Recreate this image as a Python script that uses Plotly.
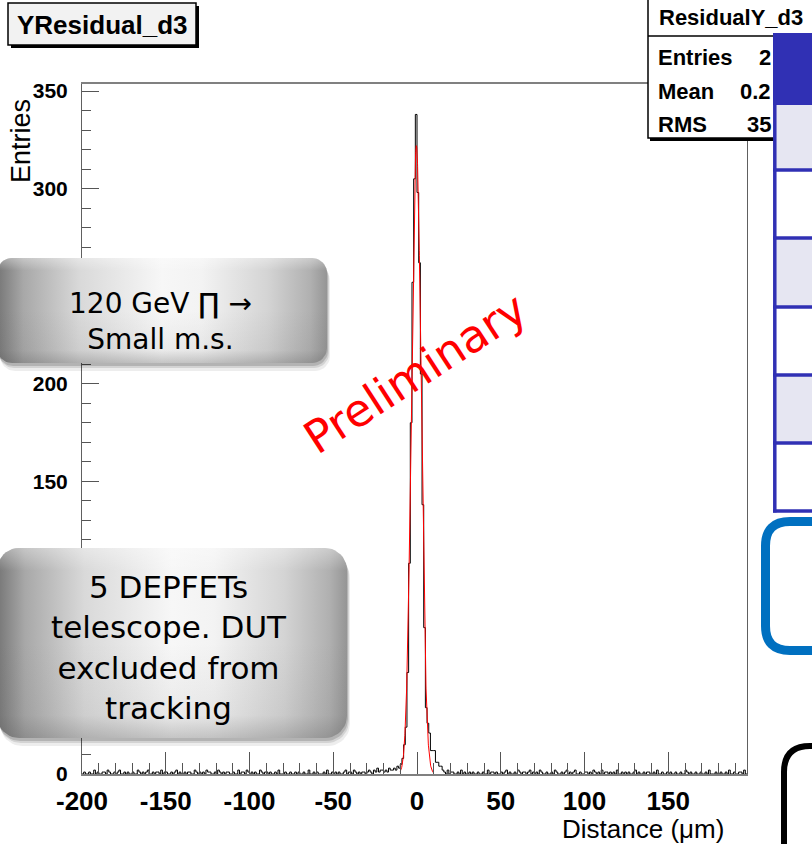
import math
import numpy as np
import plotly.graph_objects as go

# ---------------- data ----------------
hist_title = "YResidual_d3"
stats_title = "ResidualY_d3"
stats_labels = ["Entries", "Mean", "RMS"]
stats_values_visible = ["2", "0.2", "35"]   # rest of the values hidden behind the slide table
x_title = "Distance (\u03bcm)"
y_title = "Entries"

x_first_edge = -200   # left edge of first bin (um)
bin_width = 1         # um

# counts for bins -200 ... -21
counts_left = [
    0, 1, 0, 0, 1, 0, 0, 2, 0, 1,
    0, 0, 1, 1, 0, 2, 1, 0, 0, 1,
    0, 1, 2, 0, 0, 1, 0, 1, 0, 0,
    1, 0, 0, 2, 1, 0, 1, 0, 1, 2,
    0, 0, 1, 0, 1, 1, 0, 2, 0, 1,
    1, 0, 0, 1, 0, 1, 2, 0, 1, 0,
    0, 1, 0, 1, 1, 0, 0, 2, 1, 0,
    1, 0, 1, 0, 2, 1, 1, 0, 0, 1,
    0, 2, 1, 0, 1, 0, 1, 1, 0, 0,
    1, 0, 0, 2, 0, 1, 1, 0, 2, 1,
    0, 1, 0, 1, 0, 0, 2, 1, 0, 1,
    1, 0, 1, 0, 0, 1, 0, 2, 0, 0,
    0, 1, 0, 0, 1, 0, 0, 1, 0, 1,
    0, 0, 1, 0, 0, 2, 0, 0, 1, 0,
    1, 0, 0, 0, 1, 0, 2, 0, 0, 1,
    0, 1, 0, 1, 0, 0, 1, 2, 0, 1,
    1, 0, 2, 1, 0, 1, 0, 1, 1, 0,
    1, 2, 1, 0, 2, 1, 3, 1, 2, 2,
]
# counts for bins -20 ... 15 (peak region)
counts_peak = [
    1, 2, 1, 3, 2, 2, 3, 2, 4, 3,
    5, 8, 15, 24, 52, 108, 180, 252, 305, 338,
    298, 262, 205, 138, 75, 34, 26, 21, 12, 12,
    12, 6, 6, 4, 4, 2,
]
# counts for bins 16 ... 196
counts_right = [
    1, 0, 2, 0, 1, 1, 0, 0, 1, 0,
    2, 0, 1, 0, 0, 1, 0, 1, 0, 0,
    1, 0, 0, 1, 0, 0, 2, 0, 1, 1,
    0, 1, 0, 0, 1, 0, 1, 2, 0, 1,
    0, 0, 1, 0, 2, 1, 0, 1, 1, 0,
    1, 2, 0, 1, 0, 1, 0, 2, 1, 0,
    0, 1, 0, 0, 1, 0, 2, 1, 0, 0,
    1, 0, 1, 2, 0, 1, 0, 1, 2, 0,
    0, 1, 0, 0, 1, 1, 0, 1, 0, 2,
    1, 0, 1, 0, 2, 0, 1, 1, 0, 1,
    0, 1, 0, 2, 0, 0, 1, 0, 1, 0,
    1, 0, 0, 1, 2, 0, 1, 0, 0, 1,
    0, 1, 1, 0, 0, 1, 0, 2, 0, 0,
    1, 0, 0, 1, 0, 1, 0, 0, 1, 0,
    0, 1, 0, 0, 2, 1, 0, 1, 0, 0,
    1, 0, 0, 1, 0, 0, 1, 0, 2, 0,
    0, 0, 1, 0, 0, 1, 0, 0, 1, 0,
    2, 0, 0, 1, 0, 0, 1, 1, 0, 2,
    0,
]

# gaussian fit drawn in red
fit_constant = 322.0
fit_mean = -0.4
fit_sigma = 2.9
fit_range = (-10.0, 10.0)

x_tick_vals = [-200, -150, -100, -50, 0, 50, 100, 150]
y_tick_vals = [0, 50, 100, 150, 200, 250, 300, 350]
# y labels 50, 100 and 250 lie under the slide boxes in the original
y_tick_hidden = [50, 100, 250]

box1_text = "120 GeV \u220f \u2192<br>Small m.s."
box2_text = "5 DEPFETs<br>telescope. DUT<br>excluded from<br>tracking"
watermark = "Preliminary"

# ---------------- fonts ----------------
F_NARROW = "Liberation Sans Narrow, Arial Narrow, Liberation Sans, Arial, sans-serif"
F_SANS = "Liberation Sans, Arial, Helvetica, sans-serif"
F_SLIDE = "DejaVu Sans, Verdana, sans-serif"

W, H = 812, 844

counts = counts_left + counts_peak + counts_right
edges = [x_first_edge + i * bin_width for i in range(len(counts) + 1)]

fig = go.Figure()

# histogram outline
fig.add_trace(go.Scatter(
    x=edges, y=counts + [counts[-1]], mode="lines", line_shape="hv",
    line=dict(color="#000000", width=1), hoverinfo="skip", showlegend=False,
))
# fit curve
fx = np.linspace(fit_range[0], fit_range[1], 401)
fy = fit_constant * np.exp(-0.5 * ((fx - fit_mean) / fit_sigma) ** 2)
fig.add_trace(go.Scatter(
    x=fx, y=fy, mode="lines", line=dict(color="#ff0000", width=1),
    hoverinfo="skip", showlegend=False,
))

# ---------------- decorations (pixel subplot) ----------------
def rrect(x0, y0, x1, y1, r, n=10):
    xs, ys = [], []
    corners = [(x1 - r, y0 + r, -90, 0), (x1 - r, y1 - r, 0, 90),
               (x0 + r, y1 - r, 90, 180), (x0 + r, y0 + r, 180, 270)]
    for cx, cy, a0, a1 in corners:
        for k in range(n + 1):
            a = math.radians(a0 + (a1 - a0) * k / n)
            xs.append(cx + r * math.cos(a))
            ys.append(cy + r * math.sin(a))
    xs.append(xs[0]); ys.append(ys[0])
    return xs, ys

def add_fill(xs, ys, **kw):
    fig.add_trace(go.Scatter(x=xs, y=ys, xaxis="x2", yaxis="y2", mode="lines",
                             fill="toself", line=dict(width=0, color="rgba(0,0,0,0)"),
                             hoverinfo="skip", showlegend=False, **kw))

def grey_box(x0, y0, x1, y1, r):
    for dx, dy, a in [(3, 8, 0.07), (2, 5, 0.11), (1, 3, 0.15)]:
        xs, ys = rrect(x0 + dx, y0 + dy, x1 + dx, y1 + dy, r)
        add_fill(xs, ys, fillcolor=f"rgba(0,0,0,{a})")
    xs, ys = rrect(x0, y0, x1, y1, r)
    add_fill(xs, ys, fillgradient=dict(type="horizontal", colorscale=[
        [0.0, "#767676"], [0.08, "#a8a8a8"], [0.25, "#d9d9d9"], [0.5, "#f7f7f7"],
        [0.62, "#f3f3f3"], [0.82, "#d4d4d4"], [0.95, "#b0b0b0"], [1.0, "#959595"]]))
    # vertical shading: light rim on top, darker toward bottom
    add_fill(xs, ys, fillgradient=dict(type="vertical", colorscale=[
        [0.0, "rgba(80,80,80,0.30)"], [0.12, "rgba(80,80,80,0.08)"],
        [0.5, "rgba(80,80,80,0.0)"], [0.88, "rgba(255,255,255,0.0)"],
        [1.0, "rgba(255,255,255,0.35)"]]))

grey_box(-3, 258, 327, 363, 15)
grey_box(-3, 548, 347, 738, 22)

shapes = []
def rect(x0, y0, x1, y1, fill, line_color=None, lw=0):
    shapes.append(dict(type="rect", xref="x2", yref="y2", x0=x0, y0=y0, x1=x1, y1=y1,
                       fillcolor=fill, line=dict(color=line_color or fill, width=lw),
                       layer="above"))

def line(x0, y0, x1, y1, color, lw):
    shapes.append(dict(type="line", xref="x2", yref="y2", x0=x0, y0=y0, x1=x1, y1=y1,
                       line=dict(color=color, width=lw), layer="above"))

# title box
rect(11, 6, 199, 48, "#000000")
rect(8, 3, 196, 45, "#f2f2f2", "#000000", 1.5)
# stats box
rect(650, -5, 832, 141, "#000000")
rect(648, -5, 830, 138, "#ffffff", "#000000", 1.5)
line(648, 36, 830, 36, "#000000", 1.5)
# slide table
blue = "#3030b4"
rect(773, 33, 830, 105, blue)
row_bounds = [105, 170, 238, 307, 375, 443, 511]
for i in range(6):
    rect(775, row_bounds[i], 830, row_bounds[i + 1], "#e6e6f2" if i % 2 == 0 else "#ffffff")
for yb in row_bounds[1:]:
    line(773, yb, 830, yb, blue, 3.5)
line(774.8, 33, 774.8, 512.5, blue, 3.5)
# blue rounded frame
shapes.append(dict(type="path", xref="x2", yref="y2",
                   path="M 860,521.5 L 790,521.5 Q 765.5,521.5 765.5,546 L 765.5,626 "
                        "Q 765.5,650.5 790,650.5 L 860,650.5",
                   line=dict(color="#0070c0", width=9), layer="above"))
# black rounded frame
shapes.append(dict(type="path", xref="x2", yref="y2",
                   path="M 860,746 L 810,746 Q 784,746 784,772 L 784,880",
                   line=dict(color="#000000", width=6), layer="above"))

ann = []
def text(x, y, s, size, family, color="#000000", bold=False, xanchor="center",
         angle=0, align="center"):
    ann.append(dict(x=x, y=y, xref="x2", yref="y2", text=s, showarrow=False,
                    xanchor=xanchor, yanchor="middle", textangle=angle, align=align,
                    font=dict(size=size, family=family, color=color,
                              weight="bold" if bold else "normal")))

text(102, 25, hist_title, 26, F_NARROW, bold=True)
text(731, 17, stats_title, 22, F_NARROW, bold=True)
for lab, val, yy in zip(stats_labels, stats_values_visible, [57, 91, 124]):
    text(656, yy, lab, 22, F_NARROW, bold=True, xanchor="left")
    text(773, yy, val, 22, F_NARROW, bold=True, xanchor="right")
text(21, 141, y_title, 27, F_SANS, angle=-90)
text(726, 829, x_title, 26, F_SANS, xanchor="right")
text(160, 321, box1_text, 28, F_SLIDE)
text(169, 647, box2_text, 31, F_SLIDE)
text(415, 373, watermark, 45, F_SLIDE, color="#ff0000", angle=-33)

fig.update_layout(
    width=W, height=H, autosize=False,
    margin=dict(l=0, r=0, t=0, b=0, pad=0, autoexpand=False),
    paper_bgcolor="#ffffff", plot_bgcolor="rgba(0,0,0,0)",
    showlegend=False,
    xaxis=dict(domain=[82 / W, 747 / W], range=[-200, 197], tickvals=x_tick_vals,
               ticktext=[str(v) for v in x_tick_vals], ticks="inside", ticklen=22,
               tickwidth=1, tickcolor="#555555",
               minor=dict(dtick=10, tick0=0, ticks="inside", ticklen=11,
                          tickcolor="#555555", tickwidth=1),
               showline=True, linecolor="#808080", linewidth=1.5, mirror=True,
               showgrid=False, zeroline=False, ticklabelstandoff=3,
               tickfont=dict(family=F_NARROW, size=26, color="#000000", weight="bold"),
               anchor="y", automargin=False),
    yaxis=dict(domain=[70 / H, 760 / H], range=[0, 353.6], tickvals=y_tick_vals,
               ticktext=["" if v in y_tick_hidden else str(v) for v in y_tick_vals],
               ticks="inside", ticklen=17, tickwidth=1, tickcolor="#555555",
               minor=dict(dtick=10, tick0=0, ticks="inside", ticklen=9,
                          tickcolor="#555555", tickwidth=1),
               showline=True, linecolor="#606060", linewidth=1, mirror=True,
               showgrid=False, zeroline=False, ticklabelstandoff=9,
               tickfont=dict(family=F_NARROW, size=21, color="#000000", weight="bold"),
               anchor="x", automargin=False),
    xaxis2=dict(domain=[0, 1], range=[0, W], visible=False, anchor="y2", fixedrange=True),
    yaxis2=dict(domain=[0, 1], range=[H, 0], visible=False, anchor="x2", fixedrange=True),
    shapes=shapes, annotations=ann,
)

fig.write_html("out.html", config={"displayModeBar": False},
               post_script="document.body.style.margin='0';document.body.style.overflow='hidden';")
